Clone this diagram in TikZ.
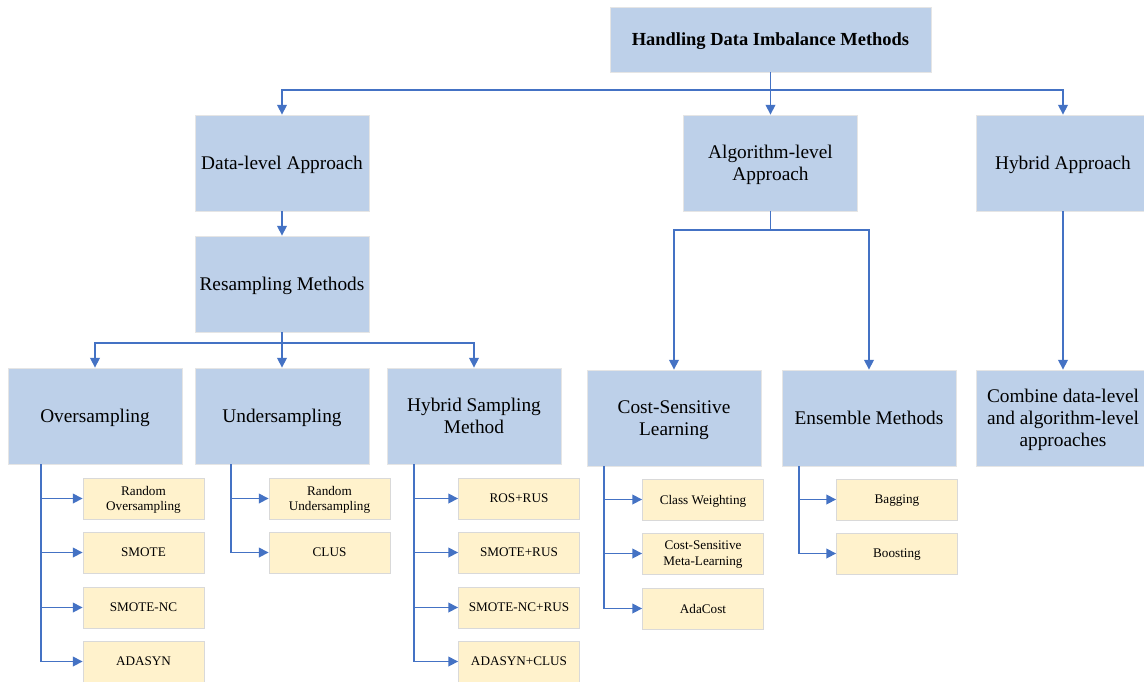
\documentclass[tikz,border=0pt]{standalone}
\usepackage{fontspec}
\setmainfont{Liberation Serif}
\usetikzlibrary{arrows.meta}
\definecolor{boxblue}{HTML}{BDD0E9}
\definecolor{leafyel}{HTML}{FFF2CC}
\definecolor{arrblue}{HTML}{4472C4}
\begin{document}
\begin{tikzpicture}[x=0.02cm,y=-0.02cm,
  mainbox/.style={draw=black!10, line width=0.5pt, fill=boxblue, minimum width=3.48cm, minimum height=1.92cm, inner sep=0pt, text depth=0pt, align=center, font=\fontsize{11}{12.6}\selectfont},
  rootbox/.style={mainbox, minimum width=6.42cm, minimum height=1.3cm, font=\fontsize{10.5}{12}\selectfont\bfseries},
  leafbox/.style={draw=black!15, line width=0.5pt, fill=leafyel, minimum width=2.42cm, minimum height=0.82cm, inner sep=0pt, text depth=0pt, align=center, font=\fontsize{7.5}{9}\selectfont},
  ln/.style={draw=arrblue, line width=0.85pt},
  arr/.style={ln, -{Triangle[length=5.5pt,width=5.5pt]}}]
\useasboundingbox[fill=white] (0,0) rectangle (1144,681);
\begin{scope}
\clip (0,0) rectangle (1144,681);
% top levels
\node[rootbox] (root) at (770.5,39.5) {Handling Data Imbalance Methods};
\node[mainbox] (data) at (282,163) {Data-level Approach};
\node[mainbox] (algo) at (770.5,163) {Algorithm-level\\Approach};
\node[mainbox] (hyap) at (1063,163) {Hybrid Approach};
\node[mainbox] (resamp) at (282,284) {Resampling Methods};
\node[mainbox] (over) at (95,416) {Oversampling};
\node[mainbox] (under) at (282,416) {Undersampling};
\node[mainbox] (hyb) at (474,416) {Hybrid Sampling\\Method};
\node[mainbox] (cost) at (674,418) {Cost-Sensitive\\Learning};
\node[mainbox] (ens) at (869,418) {Ensemble Methods};
\node[mainbox] (comb) at (1063,418) {Combine data-level\\and algorithm-level\\approaches};
% leaves
\node[leafbox] (ov1) at (143.5,498.5) {Random\\Oversampling};
\node[leafbox] (ov2) at (143.5,552.5) {SMOTE};
\node[leafbox] (ov3) at (143.5,607.5) {SMOTE-NC};
\node[leafbox] (ov4) at (143.5,661.5) {ADASYN};
\node[leafbox] (un1) at (329.5,498.5) {Random\\Undersampling};
\node[leafbox] (un2) at (329.5,552.5) {CLUS};
\node[leafbox] (hy1) at (519,498.5) {ROS+RUS};
\node[leafbox] (hy2) at (519,552.5) {SMOTE+RUS};
\node[leafbox] (hy3) at (519,607.5) {SMOTE-NC+RUS};
\node[leafbox] (hy4) at (519,661.5) {ADASYN+CLUS};
\node[leafbox] (cs1) at (703,499.5) {Class Weighting};
\node[leafbox] (cs2) at (703,553.5) {Cost-Sensitive\\Meta-Learning};
\node[leafbox] (cs3) at (703,608.5) {AdaCost};
\node[leafbox] (en1) at (897,499.5) {Bagging};
\node[leafbox] (en2) at (897,553.5) {Boosting};
% connectors
\coordinate (j1) at (770.5,90);
\draw[ln] (root.south) -- (j1);
\draw[arr] (j1) -| (data.north);
\draw[arr] (j1) -- (algo.north);
\draw[arr] (j1) -| (hyap.north);
\draw[arr] (data) -- (resamp);
\coordinate (j2) at (282,343);
\draw[ln] (resamp.south) -- (j2);
\draw[arr] (j2) -| (over.north);
\draw[arr] (j2) -- (under.north);
\draw[arr] (j2) -| (hyb.north);
\coordinate (j3) at (770.5,230);
\draw[ln] (algo.south) -- (j3);
\draw[arr] (j3) -| (cost.north);
\draw[arr] (j3) -| (ens.north);
\draw[arr] (hyap) -- (comb);
% trunks
\coordinate (ovt) at (41,464);
\coordinate (unt) at (231,464);
\coordinate (hyt) at (414,464);
\coordinate (cst) at (604,466);
\coordinate (ent) at (799,466);
\foreach \l in {ov1,ov2,ov3,ov4} \draw[arr] (ovt) |- (\l.west);
\foreach \l in {un1,un2} \draw[arr] (unt) |- (\l.west);
\foreach \l in {hy1,hy2,hy3,hy4} \draw[arr] (hyt) |- (\l.west);
\foreach \l in {cs1,cs2,cs3} \draw[arr] (cst) |- (\l.west);
\foreach \l in {en1,en2} \draw[arr] (ent) |- (\l.west);
\end{scope}
\end{tikzpicture}
\end{document}
